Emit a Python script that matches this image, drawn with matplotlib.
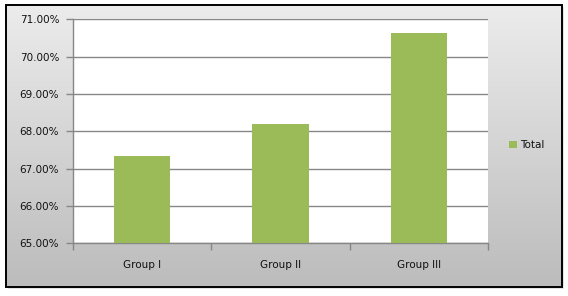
import matplotlib
matplotlib.use("Agg")
import matplotlib.pyplot as plt
import numpy as np
from matplotlib.patches import Rectangle
from matplotlib.ticker import FuncFormatter, FixedLocator
from matplotlib.colors import LinearSegmentedColormap

categories = ["Group I", "Group II", "Group III"]
values = [67.35, 68.20, 70.63]
series_name = "Total"
y_ticks = [65, 66, 67, 68, 69, 70, 71]

W, H = 568, 296
fig = plt.figure(figsize=(W / 100, H / 100), dpi=100)
fig.patch.set_facecolor("white")

# background gradient frame
bg = fig.add_axes([0, 0, 1, 1], zorder=-10)
bg.set_xlim(0, W)
bg.set_ylim(H, 0)
bg.axis("off")
x0, y0, x1, y1 = 6, 5, 561.5, 286.5
bg.add_patch(Rectangle((x0 + 2, y0 + 2), x1 - x0, y1 - y0, facecolor="#e4e4e4", edgecolor="none", zorder=0))
grad = np.linspace(0, 1, 256).reshape(-1, 1)
cmap = LinearSegmentedColormap.from_list("g", ["#ececec", "#bcbcbc"])
bg.imshow(grad, cmap=cmap, extent=[x0, x1, y1, y0], aspect="auto", zorder=1)
bg.add_patch(Rectangle((x0, y0), x1 - x0, y1 - y0, facecolor="none", edgecolor="black", linewidth=1.4, zorder=2))

# plot area
left, right, top, bottom = 73, 488, 19.3, 243.3
ax = fig.add_axes([left / W, 1 - bottom / H, (right - left) / W, (bottom - top) / H])
ax.set_facecolor("white")
x = np.arange(len(categories))
ax.bar(x, values, width=0.405, color="#9bbb59", label=series_name, zorder=3)
ax.set_xlim(-0.5, len(categories) - 0.5)
ax.set_ylim(y_ticks[0], y_ticks[-1])
ax.yaxis.set_major_locator(FixedLocator(y_ticks))
ax.yaxis.set_major_formatter(FuncFormatter(lambda v, p: f"{v:.2f}%"))
ax.grid(axis="y", color="#878787", linewidth=1.0, zorder=1)
ax.set_axisbelow(True)

ax.xaxis.set_major_locator(FixedLocator(x))
ax.set_xticklabels(categories)
ax.xaxis.set_minor_locator(FixedLocator(np.arange(-0.5, len(categories), 1.0)))
ax.tick_params(axis="x", which="major", length=0, pad=12, labelsize=7.5, labelcolor="#111111")
ax.tick_params(axis="x", which="minor", length=5, color="#878787", width=1)
ax.tick_params(axis="y", length=5, color="#878787", width=1, pad=5, labelsize=7.5, labelcolor="#111111")

for s in ["top", "right"]:
    ax.spines[s].set_visible(False)
for s in ["left", "bottom"]:
    ax.spines[s].set_color("#878787")
    ax.spines[s].set_linewidth(1.0)

# legend
leg = fig.legend(loc="center left", bbox_to_anchor=(509 / W, 1 - 145 / H), frameon=False,
                 fontsize=7.5, handlelength=0.75, handleheight=0.75, handletextpad=0.3,
                 borderpad=0, borderaxespad=0)
for t in leg.get_texts():
    t.set_color("#111111")

fig.savefig("out.png", dpi=100)
